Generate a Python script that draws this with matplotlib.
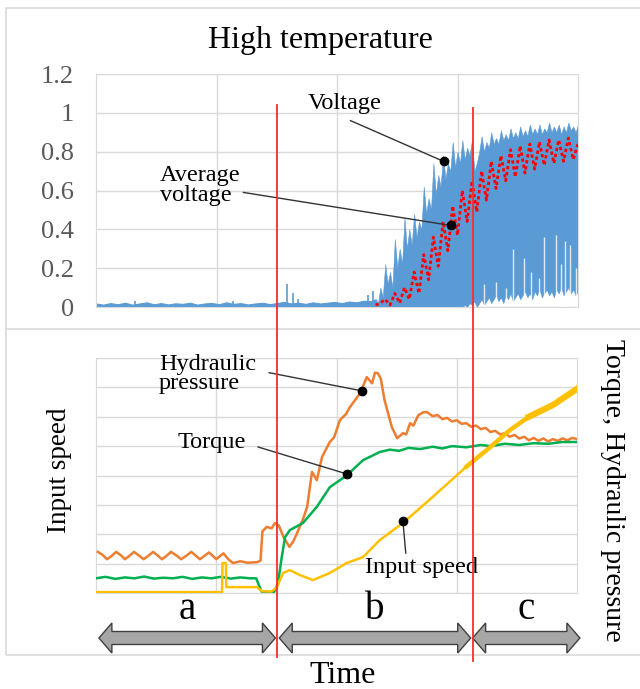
import numpy as np
import matplotlib
matplotlib.use('Agg')
import matplotlib.pyplot as plt
from matplotlib.patches import Polygon, Rectangle
from matplotlib.lines import Line2D
from matplotlib.transforms import blended_transform_factory

# ---------------- top panel: voltage (normalised time 0..100) ----------------
flat_t = [0, 1.5, 3, 4.5, 6, 7.5, 9, 10.5, 12, 13.5, 15, 16.5, 18, 19.5, 21,
          22.5, 24, 25.5, 27, 28.5, 30, 31.5, 33, 34.5, 36, 37.5, 39, 40.5,
          42, 43.5, 45, 46.5, 48, 49.5, 51, 52.5, 54, 55.5, 57, 58]
flat_v = [0.018, 0.012, 0.020, 0.014, 0.022, 0.012, 0.018, 0.024, 0.014, 0.020,
          0.013, 0.019, 0.016, 0.022, 0.012, 0.018, 0.021, 0.014, 0.024, 0.016,
          0.020, 0.013, 0.018, 0.022, 0.015, 0.020, 0.026, 0.018, 0.022, 0.016,
          0.024, 0.018, 0.022, 0.026, 0.020, 0.028, 0.024, 0.032, 0.030, 0.040]
volt_t = [58 + 0.5 * i for i in range(85)]
volt_hi = [0.04, 0.02, 0.10, 0.05, 0.22, 0.12, 0.18, 0.10, 0.35, 0.20,
           0.30, 0.22, 0.46, 0.30, 0.40, 0.32, 0.48, 0.36, 0.44, 0.40,
           0.62, 0.48, 0.56, 0.50, 0.74, 0.58, 0.68, 0.62, 0.78, 0.66,
           0.74, 0.70, 0.85, 0.72, 0.80, 0.74, 0.86, 0.76, 0.82, 0.78,
           0.86, 0.70, 0.74, 0.80, 0.88, 0.80, 0.85, 0.82, 0.90, 0.84,
           0.87, 0.84, 0.91, 0.86, 0.89, 0.86, 0.92, 0.87, 0.90, 0.87,
           0.93, 0.88, 0.91, 0.88, 0.94, 0.89, 0.92, 0.89, 0.94, 0.89,
           0.92, 0.90, 0.95, 0.90, 0.93, 0.90, 0.94, 0.89, 0.93, 0.90,
           0.95, 0.91, 0.93, 0.90, 0.94]
volt_lo = [0.0] * 37 + [
           0.01, 0.0, 0.02, 0.01, 0.03, 0.0, 0.02, 0.04, 0.01, 0.03,
           0.05, 0.02, 0.04, 0.06, 0.03, 0.05, 0.02, 0.06, 0.04, 0.07,
           0.03, 0.05, 0.07, 0.04, 0.06, 0.08, 0.05, 0.07, 0.04, 0.08,
           0.06, 0.09, 0.05, 0.07, 0.09, 0.06, 0.08, 0.05, 0.09, 0.07,
           0.10, 0.06, 0.08, 0.10, 0.07, 0.09, 0.06, 0.08]
spike_t = [8.0, 28.5, 39.6, 40.8, 42.0, 56.5, 57.5]
spike_v = [0.03, 0.03, 0.12, 0.07, 0.04, 0.06, 0.08]
gap_t = [80.5, 83.0, 85.0, 86.5, 88.8, 90.2, 92.0, 93.0, 95.5, 96.5, 97.2, 98.4, 99.5]
gap_top = [0.12, 0.13, 0.10, 0.30, 0.25, 0.18, 0.15, 0.36, 0.37, 0.22, 0.34, 0.32, 0.20]
avg_t = list(range(58, 101))
avg_v = [0.01, 0.02, 0.04, 0.01, 0.07, 0.02, 0.10, 0.04, 0.18, 0.07,
         0.27, 0.14, 0.36, 0.21, 0.44, 0.29, 0.52, 0.37, 0.60, 0.44,
         0.65, 0.49, 0.70, 0.55, 0.75, 0.61, 0.78, 0.65, 0.81, 0.67,
         0.83, 0.69, 0.84, 0.71, 0.85, 0.73, 0.86, 0.74, 0.86, 0.75,
         0.87, 0.76, 0.84]

# ---------------- bottom panel ----------------
press_t = [0.4, 1.35, 2.3, 3.25, 4.2, 5.2, 6.0, 7.0, 7.9, 8.9, 9.9, 10.9,
           11.9, 12.8, 13.7, 14.7, 15.6, 16.7, 17.7, 18.8, 19.8, 20.7, 21.6,
           22.6, 23.5, 24.3, 25.0, 25.8, 26.5, 27.5, 28.5, 30.0, 31.5, 33.5,
           34.2, 34.6, 35.5, 36.5, 37.2, 38.0, 39.0, 40.2, 41.0, 41.8, 43.0,
           43.9, 44.9, 45.9, 47.0, 48.6, 49.5, 50.7, 52.0, 52.8, 54.0, 54.9,
           56.3, 57.4, 58.0, 58.6, 59.2, 60.0, 61.5, 62.6, 63.2, 63.8, 64.5,
           65.3, 66.0, 67.0, 68.0, 68.8, 70.0, 71.0, 72.0, 73.0, 74.0, 75.0,
           76.0, 77.0, 78.0, 79.0, 80.0, 81.0, 82.0, 83.0, 84.0, 85.0, 86.0,
           87.0, 88.0, 89.0, 90.0, 91.0, 92.0, 93.0, 94.0, 95.0, 96.0, 97.0,
           98.0, 99.0, 100.0]
press_v = [1.40, 1.30, 1.15, 1.26, 1.40, 1.28, 1.15, 1.27, 1.40, 1.28, 1.15, 1.27,
           1.40, 1.28, 1.15, 1.27, 1.40, 1.28, 1.15, 1.27, 1.40, 1.28, 1.15,
           1.27, 1.38, 1.26, 1.15, 1.26, 1.35, 1.15, 1.02, 1.08, 1.03, 1.05,
           1.10, 2.10, 2.25, 2.20, 2.38, 2.30, 1.90, 1.57, 1.75, 2.04, 2.50,
           2.93, 4.12, 3.84, 4.63, 5.14, 5.30, 5.88, 6.10, 6.33, 6.60, 6.80,
           7.35, 7.14, 7.50, 7.48, 7.30, 6.56, 5.65, 5.27, 5.35, 5.44, 5.40,
           5.78, 5.70, 6.05, 6.15, 6.16, 6.02, 6.06, 5.92, 5.96, 5.84, 5.88,
           5.76, 5.78, 5.66, 5.70, 5.58, 5.62, 5.48, 5.52, 5.40, 5.44, 5.32,
           5.38, 5.26, 5.32, 5.20, 5.28, 5.18, 5.26, 5.16, 5.24, 5.18, 5.26,
           5.20, 5.28, 5.24]
torque_t = [0.0, 2.0, 4.0, 6.0, 8.0, 10.0, 12.0, 14.0, 16.0, 18.0, 20.0, 22.0,
            24.0, 26.0, 28.0, 30.0, 32.0, 33.3, 34.4, 36.9, 37.8, 38.6, 39.3,
            40.3, 43.0, 45.9, 48.6, 52.1, 55.5, 59.0, 61.1, 63.0, 65.0, 67.4,
            70.0, 72.0, 74.0, 77.0, 80.0, 82.0, 85.0, 88.0, 91.0, 94.0, 97.0,
            100.0]
torque_v = [0.50, 0.55, 0.48, 0.53, 0.50, 0.56, 0.49, 0.52, 0.50, 0.55, 0.48, 0.53,
            0.50, 0.55, 0.49, 0.53, 0.50, 0.50, 0.05, 0.00, 0.30, 1.20, 1.90,
            2.14, 2.38, 2.93, 3.60, 4.00, 4.52, 4.80, 4.88, 4.84, 4.94, 4.90,
            4.98, 4.92, 5.00, 4.96, 5.04, 5.00, 5.08, 5.04, 5.10, 5.08, 5.14,
            5.14]
speed_t = [0.0, 26.2, 26.3, 27.0, 27.1, 33.5, 34.5, 36.5, 37.6, 38.9, 40.3,
           42.4, 45.1, 48.6, 52.1, 55.5, 59.0, 64.0, 70.0, 77.0, 82.0, 86.0,
           90.0, 95.0, 100.0]
speed_v = [0.03, 0.03, 1.02, 1.02, 0.20, 0.20, 0.06, 0.05, 0.20, 0.68, 0.78,
           0.61, 0.44, 0.68, 1.02, 1.22, 1.80, 2.41, 3.27, 4.30, 4.97, 5.54,
           6.00, 6.40, 6.95]

phase_labels = ['a', 'b', 'c']
phase_start = [0.6, 38.1, 78.3]
phase_end = [37.3, 77.9, 100.6]
split_t = [37.6, 78.4]

BLUE = '#5b9bd5'
ORANGE = '#ed7d31'
GREEN = '#00b050'
YELLOW = '#ffc000'
GRID = '#d9d9d9'

plt.rcParams['font.family'] = ['Liberation Serif', 'DejaVu Serif']
W, H = 640, 689
fig = plt.figure(figsize=(W / 100, H / 100), dpi=100)


def fx(px):
    return px / W


def fy(py):
    return 1 - py / H


ax1 = fig.add_axes([fx(96), fy(307), 482 / W, 233 / H])
ax2 = fig.add_axes([fx(96), fy(593), 481 / W, 235 / H])

# top panel
ax1.fill_between(flat_t, 0, flat_v, color=BLUE, lw=0.8, zorder=2)
ax1.fill_between(volt_t, volt_lo, volt_hi, color=BLUE, lw=0.4, zorder=2)
ax1.vlines(spike_t, 0, spike_v, color=BLUE, lw=1.2, zorder=2)
ax1.vlines(gap_t, 0, gap_top, color='white', lw=1.0, alpha=0.8, zorder=3)
ax1.plot(avg_t, avg_v, color='red', lw=2.0, ls=(0, (1.2, 1)), zorder=4)
ax1.set_xlim(0, 100)
ax1.set_ylim(0, 1.2)
ax1.set_xticks([25, 50, 75])
ax1.set_xticklabels([])
ax1.set_yticks([0, 0.2, 0.4, 0.6, 0.8, 1.0, 1.2])
ax1.set_yticklabels(['0', '0.2', '0.4', '0.6', '0.8', '1', '1.2'])
ax1.tick_params(length=0, labelsize=19, labelcolor='#595959', pad=16)
ax1.grid(True, color=GRID, lw=1)
ax1.set_axisbelow(True)
for s in ax1.spines.values():
    s.set_color(GRID)

# annotations, top
ax1.text(51.5, 1.02, 'Voltage', fontsize=17.5, ha='center', va='baseline')
ax1.plot([52.8, 72.1], [0.96, 0.75], color='#333333', lw=1, zorder=5)
ax1.scatter([72.1], [0.75], s=36, color='black', zorder=6)
ax1.text(13.3, 0.73, 'Average\nvoltage', fontsize=17.5, ha='left', va='top',
         linespacing=0.95)
ax1.plot([30.6, 73.6], [0.59, 0.42], color='#333333', lw=1, zorder=5)
ax1.scatter([73.6], [0.42], s=36, color='black', zorder=6)

# bottom panel
ax2.plot(press_t, press_v, color=ORANGE, lw=1.8, zorder=3)
ax2.plot(torque_t, torque_v, color=GREEN, lw=1.8, zorder=3)
ax2.plot(speed_t, speed_v, color=YELLOW, lw=1.8, zorder=3)
ax2.plot(speed_t[-6:], speed_v[-6:], color=YELLOW, lw=3.2, zorder=3)
ax2.plot(speed_t[-3:], speed_v[-3:], color=YELLOW, lw=4.5, zorder=3)
ax2.set_xlim(0, 100)
ax2.set_ylim(0, 8)
ax2.set_xticks([25, 50, 75])
ax2.set_yticks(range(9))
ax2.set_xticklabels([])
ax2.set_yticklabels([])
ax2.tick_params(length=0)
ax2.grid(True, color=GRID, lw=1)
ax2.set_axisbelow(True)
for s in ax2.spines.values():
    s.set_color(GRID)

ax2.text(13.1, 8.15, 'Hydraulic\npressure', fontsize=17.5, ha='left', va='top',
         linespacing=0.9)
ax2.plot([36.0, 55.3], [7.5, 6.88], color='#333333', lw=1, zorder=5)
ax2.scatter([55.3], [6.88], s=36, color='black', zorder=6)
ax2.text(24.0, 4.93, 'Torque', fontsize=17.5, ha='center', va='baseline')
ax2.plot([33.7, 52.2], [4.97, 4.05], color='#333333', lw=1, zorder=5)
ax2.scatter([52.2], [4.05], s=36, color='black', zorder=6)
ax2.text(67.7, 0.68, 'Input speed', fontsize=17.5, ha='center', va='baseline')
ax2.plot([64.4, 63.8], [1.36, 2.45], color='#333333', lw=1, zorder=5)
ax2.scatter([63.8], [2.45], s=36, color='black', zorder=6)

# outer frame and divider
fig.add_artist(Rectangle((fx(6), fy(655)), 1.0, fy(8) - fy(655), fill=False,
                         ec=GRID, lw=1.2, transform=fig.transFigure))
fig.add_artist(Line2D([fx(6), 1.0], [fy(329), fy(329)], color=GRID, lw=1.2,
                      transform=fig.transFigure))

# phase split lines
tr = blended_transform_factory(ax2.transData, fig.transFigure)
fig.add_artist(Line2D([split_t[0]] * 2, [fy(657), fy(105)], color='#ff2a2a',
                      lw=1.3, transform=tr, zorder=10))
fig.add_artist(Line2D([split_t[1]] * 2, [fy(661), fy(108)], color='#ff2a2a',
                      lw=1.3, transform=tr, zorder=10))

# phase arrows and labels
yc = fy(638)
h1 = 6.5 / H
h2 = 15 / H
L = 2.7
for lab, x0, x1 in zip(phase_labels, phase_start, phase_end):
    pts = [(x0, yc), (x0 + L, yc + h2), (x0 + L, yc + h1), (x1 - L, yc + h1),
           (x1 - L, yc + h2), (x1, yc), (x1 - L, yc - h2), (x1 - L, yc - h1),
           (x0 + L, yc - h1), (x0 + L, yc - h2)]
    fig.add_artist(Polygon(pts, closed=True, fc='#a6a6a6', ec='#404040',
                           lw=1, transform=tr))
    fig.text((x0 + x1) / 2, fy(619), lab, fontsize=28, ha='center',
             va='baseline', transform=tr)

# titles and axis labels
fig.text(0.5, fy(48), 'High temperature', fontsize=23, ha='center', va='baseline')
fig.text(fx(343), fy(683), 'Time', fontsize=23, ha='center', va='baseline')
fig.text(fx(59), fy(470), 'Input speed', fontsize=19.5, rotation=90,
         ha='center', va='center')
fig.text(fx(612), fy(490), 'Torque, Hydraulic pressure', fontsize=20,
         rotation=270, ha='center', va='center')

fig.savefig('out.png', dpi=100)
